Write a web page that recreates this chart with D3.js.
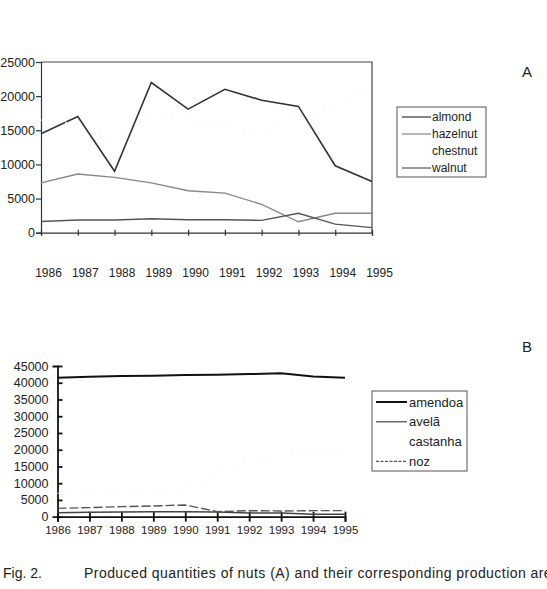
<!DOCTYPE html>
<html>
<head>
<meta charset="utf-8">
<script src="https://cdn.jsdelivr.net/npm/d3@7"></script>
<style>
  body { margin: 0; background: #fff; }
  svg text { font-family: "Liberation Sans", Arial, sans-serif; fill: #222; }
</style>
</head>
<body>
<div id="chart"></div>
<script>
// data
const years = [1986, 1987, 1988, 1989, 1990, 1991, 1992, 1993, 1994, 1995];

// (A) produced quantities
const almond   = [14500, 17000, 9000, 22000, 18100, 21000, 19400, 18500, 9800, 7500];
const hazelnut = [7300, 8600, 8100, 7300, 6150, 5800, 4150, 1600, 2850, 2850];
const chestnut = [16500, 16000, 13500, 17500, 16500, 15500, 15000, 17000, 18500, 21500];
const walnut   = [1650, 1850, 1850, 2050, 1900, 1900, 1800, 2850, 1250, 750];
const ticksA   = [0, 5000, 10000, 15000, 20000, 25000];

// (B) production areas
const amendoa  = [41500, 41800, 42000, 42100, 42300, 42400, 42600, 42800, 41900, 41500];
const avela    = [1200, 1300, 1400, 1500, 1500, 1400, 1100, 1100, 700, 700];
const castanha = [7000, 7500, 8000, 8500, 8500, 13000, 17000, 18200, 18500, 18800];
const noz      = [2500, 2700, 3000, 3200, 3500, 1500, 1800, 1700, 1800, 1800];
const ticksB   = [0, 5000, 10000, 15000, 20000, 25000, 30000, 35000, 40000, 45000];

const width = 547, height = 589;

const svg = d3.select("#chart").append("svg")
    .attr("width", width)
    .attr("height", height);

const line = (x, y) => d3.line().x((d, i) => x(years[i])).y(d => y(d));

// ---------- chart A ----------
const xA = d3.scaleLinear().domain([1986, 1995]).range([41, 372]);
const yA = d3.scaleLinear().domain([0, 25000]).range([232.7, 62]);

const gA = svg.append("g");

// frame top/right
gA.append("path")
    .attr("d", `M${xA(1986)},${yA(25000)}H${xA(1995)}V${yA(0)}`)
    .attr("fill", "none").attr("stroke", "#444").attr("stroke-width", 1.2);

const axLeftA = gA.append("g")
    .attr("transform", `translate(${xA(1986)},0)`)
    .call(d3.axisLeft(yA).tickValues(ticksA).tickSize(5).tickPadding(1).tickFormat(d3.format("d")));
axLeftA.selectAll("text").style("font-size", "12.5px");

const axBottomA = gA.append("g")
    .attr("transform", `translate(0,${yA(0)})`)
    .call(d3.axisBottom(xA).tickValues(years).tickSize(3).tickFormat(""));
axBottomA.selectAll(".tick line").attr("y1", -3);

// year labels sit well below the axis
const labA = gA.append("g")
    .attr("transform", `translate(7,${yA(0) + 33})`)
    .call(d3.axisBottom(xA).tickValues(years).tickSize(0).tickFormat(d3.format("d")));
labA.select(".domain").remove();
labA.selectAll("text").style("font-size", "12px");

gA.selectAll(".domain, .tick line").attr("stroke", "#333").attr("stroke-width", 1.2);

const seriesA = [
  { name: "almond",   values: almond,   color: "#333", w: 1.6, dash: null },
  { name: "hazelnut", values: hazelnut, color: "#888", w: 1.4, dash: null },
  { name: "chestnut", values: chestnut, color: "#f2f2f2", w: 1, dash: "2,10" },
  { name: "walnut",   values: walnut,   color: "#555", w: 1.4, dash: null }
];

gA.selectAll(".lineA").data(seriesA).enter().append("path")
    .attr("class", "lineA")
    .attr("d", s => line(xA, yA)(s.values))
    .attr("fill", "none")
    .attr("stroke", s => s.color)
    .attr("stroke-width", s => s.w)
    .attr("stroke-dasharray", s => s.dash);

// legend A
const legA = gA.append("g").attr("transform", "translate(397,107)");
legA.append("rect").attr("width", 89).attr("height", 70)
    .attr("fill", "none").attr("stroke", "#555").attr("stroke-width", 1);
const itemA = legA.selectAll(".itemA").data(seriesA).enter().append("g")
    .attr("transform", (d, i) => `translate(0,${10 + i * 17})`);
itemA.append("line").attr("x1", 5).attr("x2", 34)
    .attr("stroke", d => d.name === "chestnut" ? "none" : d.color)
    .attr("stroke-width", 1.2);
itemA.append("text").attr("x", 35).attr("dy", "0.35em")
    .style("font-size", "12px").text(d => d.name);

svg.append("text").attr("x", 527).attr("y", 77).attr("text-anchor", "middle")
    .style("font-size", "15px").text("A");

// ---------- chart B ----------
const xB = d3.scaleLinear().domain([1986, 1995]).range([57.5, 345]);
const yB = d3.scaleLinear().domain([0, 45000]).range([516.7, 366]);

const gB = svg.append("g");

const axLeftB = gB.append("g")
    .attr("transform", `translate(${xB(1986)},0)`)
    .call(d3.axisLeft(yB).tickValues(ticksB).tickSize(5).tickPadding(4).tickFormat(d3.format("d")));
axLeftB.selectAll(".tick line").attr("x2", 5);
axLeftB.selectAll("text").style("font-size", "12.5px");

const axBottomB = gB.append("g")
    .attr("transform", `translate(0,${yB(0)})`)
    .call(d3.axisBottom(xB).tickValues(years).tickSize(5).tickPadding(4).tickFormat(d3.format("d")));
axBottomB.selectAll(".tick line").attr("y1", -5);
axBottomB.selectAll("text").style("font-size", "11.5px");

gB.selectAll(".domain, .tick line").attr("stroke", "#111").attr("stroke-width", 1.8);

const seriesB = [
  { name: "amendoa",  values: amendoa,  color: "#111", w: 2, dash: null },
  { name: "avelã",    values: avela,    color: "#444", w: 1.5, dash: null },
  { name: "castanha", values: castanha, color: "#f2f2f2", w: 1, dash: "2,10" },
  { name: "noz",      values: noz,      color: "#555", w: 1.4, dash: "9,3" }
];

gB.selectAll(".lineB").data(seriesB).enter().append("path")
    .attr("class", "lineB")
    .attr("d", s => line(xB, yB)(s.values))
    .attr("fill", "none")
    .attr("stroke", s => s.color)
    .attr("stroke-width", s => s.w)
    .attr("stroke-dasharray", s => s.dash);

// legend B
const legB = gB.append("g").attr("transform", "translate(372,391)");
legB.append("rect").attr("width", 95).attr("height", 80)
    .attr("fill", "none").attr("stroke", "#555").attr("stroke-width", 1);
const itemB = legB.selectAll(".itemB").data(seriesB).enter().append("g")
    .attr("transform", (d, i) => `translate(0,${11 + i * 19.8})`);
itemB.append("line").attr("x1", 4).attr("x2", 35)
    .attr("stroke", d => d.name === "castanha" ? "none" : d.color)
    .attr("stroke-width", d => d.name === "amendoa" ? 2 : 1.2)
    .attr("stroke-dasharray", d => d.name === "noz" ? "3,1.5" : null);
itemB.append("text").attr("x", 37).attr("dy", "0.35em")
    .style("font-size", "13px").text(d => d.name);

svg.append("text").attr("x", 527).attr("y", 352).attr("text-anchor", "middle")
    .style("font-size", "15px").text("B");

// ---------- caption ----------
svg.append("text").attr("x", 3).attr("y", 578).style("font-size", "14px").text("Fig. 2.");
svg.append("text").attr("x", 84).attr("y", 578).style("font-size", "14px")
    .style("letter-spacing", "0.45px")
    .text("Produced quantities of nuts (A) and their corresponding production areas (B).");
</script>
</body>
</html>
